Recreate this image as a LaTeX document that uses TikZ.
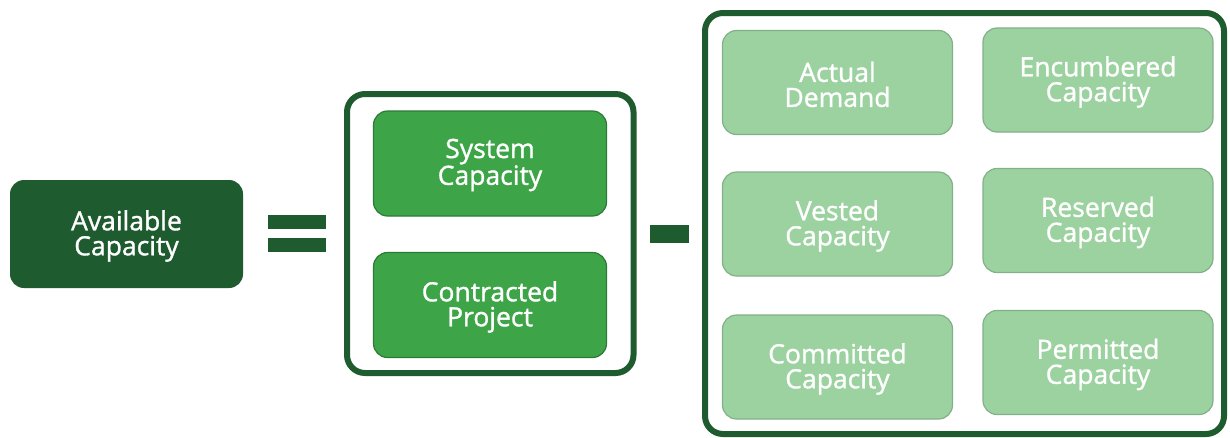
\documentclass[tikz,border=0pt]{standalone}
\usepackage{fontspec}
\setmainfont{Open Sans}
\newfontfamily\boxfont{Open Sans}[FakeBold=1.2]
\definecolor{darkgreen}{HTML}{1E5B2E}
\definecolor{midgreen}{HTML}{3DA548}
\definecolor{midedge}{HTML}{2C7A38}
\definecolor{lightgreen}{HTML}{9CD2A0}
\definecolor{lightedge}{HTML}{82B088}

\begin{document}
\begin{tikzpicture}[x=1pt,y=-1pt,
  every node/.style={text=white,align=center,text height=49pt,font=\boxfont\fontsize{26.5}{25}\selectfont},
  darkbox/.style={fill=darkgreen,rounded corners=14pt,minimum width=233pt,minimum height=108pt},
  midbox/.style={fill=midgreen,draw=midedge,line width=1.2pt,rounded corners=14pt,minimum width=233pt,minimum height=105pt},
  lightbox/.style={fill=lightgreen,draw=lightedge,line width=1.2pt,rounded corners=14pt,minimum width=230pt,minimum height=104pt},
  frame/.style={draw=darkgreen,line width=6pt,rounded corners=18pt}]
\useasboundingbox (0,0) rectangle (1230,437);
% left side
\node[darkbox] (avail) at (126.5,234) {Available\\Capacity};
\fill[darkgreen] (268,215) rectangle (326,229);
\fill[darkgreen] (268,238) rectangle (326,252);
% middle group
\draw[frame] (347,94) rectangle (633.5,373);
\node[midbox] (system) at (490,163.5) {System\\Capacity};
\node[midbox] (contract) at (490,305) {Contracted\\Project};
\fill[darkgreen] (650,225) rectangle (689,243);
% right group
\draw[frame] (705,13) rectangle (1224,434);
\node[lightbox] (actual) at (837.5,82.5) {Actual\\Demand};
\node[lightbox] (encumb) at (1098,80) {Encumbered\\Capacity};
\node[lightbox] (vested) at (837.5,224) {Vested\\Capacity};
\node[lightbox] (reserved) at (1098,220.5) {Reserved\\Capacity};
\node[lightbox] (commit) at (837.5,367) {Committed\\Capacity};
\node[lightbox] (permit) at (1098,362.5) {Permitted\\Capacity};
\end{tikzpicture}
\end{document}
